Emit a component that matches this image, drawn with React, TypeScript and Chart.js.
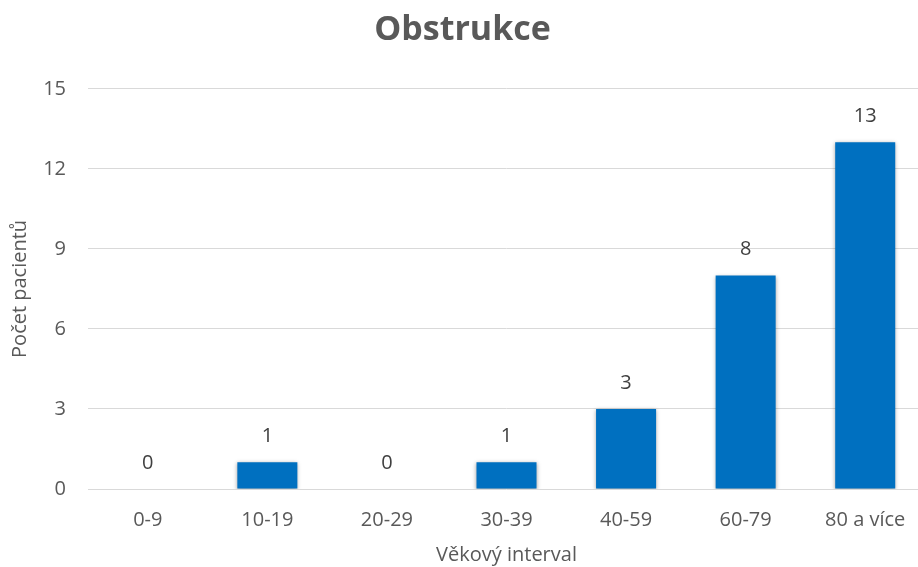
import React, { useEffect, useRef } from "react";
import { Chart, registerables } from "chart.js";

Chart.register(...registerables);

const categories = ["0-9", "10-19", "20-29", "30-39", "40-59", "60-79", "80 a více"];
const patients = [0, 1, 0, 1, 3, 8, 13];
const chartTitle = "Obstrukce";
const xTitle = "Věkový interval";
const yTitle = "Počet pacientů";

const FONT = "'Open Sans', sans-serif";

const barExtras = {
  id: "barExtras",
  beforeDatasetsDraw(chart: any) {
    const ctx = chart.ctx;
    ctx.save();
    ctx.shadowColor = "rgba(0,0,0,0.35)";
    ctx.shadowBlur = 4;
    ctx.shadowOffsetX = 0;
    ctx.shadowOffsetY = 1;
  },
  afterDatasetsDraw(chart: any) {
    const ctx = chart.ctx;
    ctx.restore();
    ctx.save();
    ctx.font = `20px ${FONT}`;
    ctx.fillStyle = "#404040";
    ctx.textAlign = "center";
    ctx.textBaseline = "middle";
    const meta = chart.getDatasetMeta(0);
    meta.data.forEach((el: any, i: number) => {
      const v = chart.data.datasets[0].data[i];
      ctx.fillText(String(v), el.x, el.y - 26);
    });
    ctx.restore();
  },
};

export default function App() {
  const ref = useRef<HTMLCanvasElement | null>(null);
  useEffect(() => {
    if (!ref.current) return;
    const chart = new Chart(ref.current, {
      type: "bar",
      data: {
        labels: categories,
        datasets: [
          {
            data: patients,
            backgroundColor: "#0070C0",
            borderWidth: 0,
            categoryPercentage: 1,
            barPercentage: 0.502,
          },
        ],
      },
      plugins: [barExtras],
      options: {
        responsive: false,
        animation: false,
        layout: { padding: { left: 0, right: 5, top: 0, bottom: 0 } },
        plugins: {
          legend: { display: false },
          tooltip: { enabled: false },
          title: {
            display: true,
            text: chartTitle,
            color: "#595959",
            font: { family: FONT, size: 34, weight: "bold", lineHeight: 1.2 },
            padding: { top: 10, bottom: 38 },
          },
        },
        scales: {
          x: {
            grid: { display: false },
            border: { display: false },
            ticks: {
              color: "#595959",
              font: { family: FONT, size: 20 },
              padding: 11,
              maxRotation: 0,
            },
            title: {
              display: true,
              text: xTitle,
              color: "#595959",
              font: { family: FONT, size: 20 },
              padding: { top: 0, bottom: 0 },
            },
            afterFit(scale: any) {
              scale.height = 78;
            },
          },
          y: {
            min: 0,
            max: 15,
            grid: { color: "#D9D9D9", lineWidth: 1, drawTicks: false },
            border: { display: false },
            ticks: {
              stepSize: 3,
              color: "#595959",
              font: { family: FONT, size: 20 },
              padding: 22,
            },
            title: {
              display: true,
              text: yTitle,
              color: "#595959",
              font: { family: FONT, size: 20 },
              padding: { top: 8, bottom: 0 },
            },
            afterFit(scale: any) {
              scale.width = 88;
            },
          },
        },
      },
    });
    return () => chart.destroy();
  }, []);
  return (
    <div
      style={{
        position: "fixed",
        left: 0,
        top: 0,
        width: 918,
        height: 567,
        overflow: "hidden",
        background: "#ffffff",
      }}
    >
      <canvas ref={ref} width={930} height={567} style={{ display: "block", width: 930, height: 567 }} />
    </div>
  );
}
